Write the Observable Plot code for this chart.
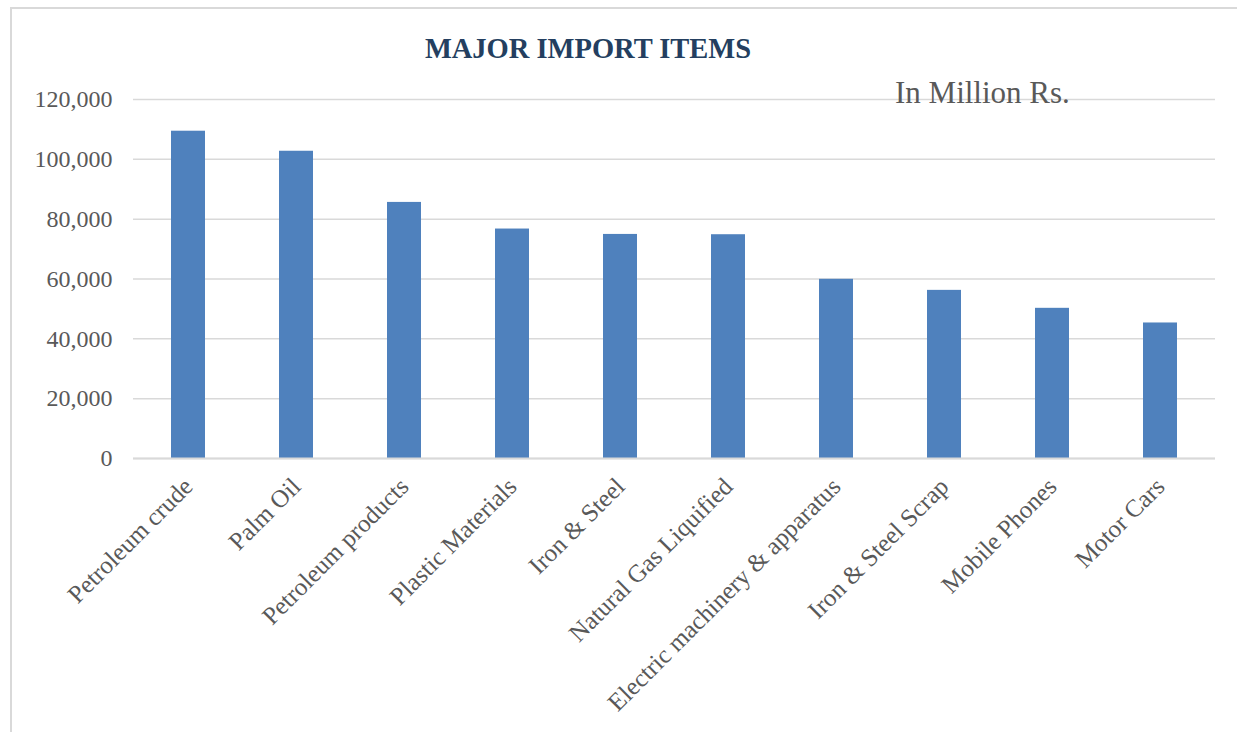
<!DOCTYPE html>
<html>
<head>
<meta charset="utf-8">
<script src="https://cdn.jsdelivr.net/npm/d3@7"></script>
<script src="https://cdn.jsdelivr.net/npm/@observablehq/plot@0.6"></script>
<style>
  html, body { margin: 0; padding: 0; background: #fff; }
  #wrap { position: relative; width: 1237px; height: 732px; overflow: hidden; background: #fff; }
  #frame { position: absolute; left: 10px; top: 7px; width: 1240px; height: 740px; border: 2px solid #d9d9d9; box-sizing: border-box; }
  #title { position: absolute; left: 0; top: 33px; width: 1176px; text-align: center; font-family: "Liberation Serif", serif; font-weight: bold; font-size: 30px; line-height: 30px; color: #243f60; transform: scaleX(0.95); transform-origin: 588px 0; }
  #unit { position: absolute; left: 895px; top: 77px; font-family: "Liberation Serif", serif; font-size: 31px; line-height: 31px; color: #595959; z-index: 2; }
  #chart { position: absolute; left: 0; top: 60px; }
</style>
</head>
<body>
<div id="wrap">
  <div id="frame"></div>
  <div id="chart"></div>
  <div id="title">MAJOR IMPORT ITEMS</div>
  <div id="unit">In Million Rs.</div>
</div>
<script>
const categories = [
  "Petroleum crude",
  "Palm Oil",
  "Petroleum products",
  "Plastic Materials",
  "Iron & Steel",
  "Natural Gas Liquified",
  "Electric machinery & apparatus",
  "Iron & Steel Scrap",
  "Mobile Phones",
  "Motor Cars"
];
const values = [109400, 102700, 85600, 76700, 74900, 74800, 59900, 56200, 50200, 45300];
const yTicks = [0, 20000, 40000, 60000, 80000, 100000, 120000];

const data = categories.map((c, i) => ({category: c, value: values[i]}));

const chart = Plot.plot({
  width: 1237,
  height: 672,
  marginTop: 39,
  marginBottom: 274,
  marginLeft: 133,
  marginRight: 22,
  style: {fontFamily: "'Liberation Serif', serif", color: "#595959", background: "transparent"},
  x: {domain: categories, paddingInner: 0.685, paddingOuter: 0.3425, align: 0.5, label: null},
  y: {domain: [0, 120000], label: null},
  marks: [
    Plot.gridY(yTicks, {stroke: "#d9d9d9", strokeOpacity: 1, strokeWidth: 1.5}),
    Plot.barY(data, {x: "category", y: "value", fill: "#4f81bd"}),
    Plot.ruleY([0], {stroke: "#d9d9d9", strokeWidth: 2}),
    Plot.axisY(yTicks, {tickSize: 0, tickPadding: 21, tickFormat: d3.format(","), fontSize: 24, label: null}),
    Plot.axisX({tickSize: 0, tickPadding: 24, tickRotate: -45, fontSize: 25, label: null})
  ]
});
document.getElementById("chart").appendChild(chart);
</script>
</body>
</html>
